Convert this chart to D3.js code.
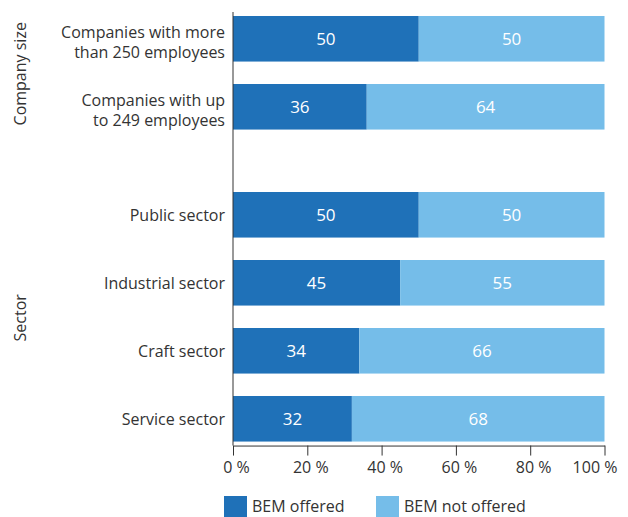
<!DOCTYPE html>
<html>
<head>
<meta charset="utf-8">
<script src="https://cdn.jsdelivr.net/npm/d3@7"></script>
<style>
	body { margin: 0; background: #fff; }
	#vizHolder { width: 628px; height: 517px; }
	text { font-family: "Open Sans", sans-serif; fill: #333; }
</style>
</head>
<body>
<div id="vizHolder"></div>
<script>
var categories = [
	['Companies with more', 'than 250 employees'],
	['Companies with up', 'to 249 employees'],
	['Public sector'],
	['Industrial sector'],
	['Craft sector'],
	['Service sector']
];
var groups = ['Company size', 'Company size', 'Sector', 'Sector', 'Sector', 'Sector'];
var offered = [50, 36, 50, 45, 34, 32];
var notOffered = [50, 64, 50, 55, 66, 68];
var seriesNames = ['BEM offered', 'BEM not offered'];
var tickValues = [0, 20, 40, 60, 80, 100];

var colors = ['#1f71b8', '#75bde9'];
var width = 628, height = 517;
var left = 233, right = 604.5, topY = 16, rowStep = 68, groupGap = 40, pad = 0.33;

var svg = d3.select('#vizHolder').append('svg')
	.attr('width', width)
	.attr('height', height);

var xScale = d3.scaleLinear().domain([0, 100]).range([left, right]);

//band scale for rows, first band starts at topY, step = rowStep
var yScale = d3.scaleBand()
	.domain(d3.range(categories.length))
	.range([topY, topY + rowStep * (categories.length - pad)])
	.paddingInner(pad)
	.paddingOuter(0);

function rowY(i) {
	return yScale(i) + (groups[i] === 'Sector' ? groupGap : 0);
}

var rows = categories.map(function(c, i) {
	return { i: i, values: [offered[i], notOffered[i]] };
});

// bars
var rowG = svg.selectAll('.row')
	.data(rows)
	.enter()
	.append('g')
	.attr('class', 'row')
	.attr('transform', function(d) { return 'translate(0,' + rowY(d.i) + ')'; });

rowG.each(function(d) {
	var g = d3.select(this);
	var mid = yScale.bandwidth() / 2;
	var start = 0;
	d.values.forEach(function(v, k) {
		g.append('rect')
			.attr('x', xScale(start))
			.attr('y', 0)
			.attr('width', xScale(start + v) - xScale(start))
			.attr('height', yScale.bandwidth())
			.attr('fill', colors[k]);
		g.append('text')
			.attr('x', (xScale(start) + xScale(start + v)) / 2)
			.attr('y', mid + 6)
			.attr('text-anchor', 'middle')
			.style('fill', '#fff')
			.style('font-size', '17px')
			.text(v);
		start += v;
	});

	var lines = categories[d.i];
	lines.forEach(function(line, j) {
		g.append('text')
			.attr('x', left - 8)
			.attr('y', lines.length > 1 ? mid - 1 + j * 20 : mid + 6)
			.attr('text-anchor', 'end')
			.style('font-size', '16px')
			.text(line);
	});
});

// x axis
var axisY = rowY(categories.length - 1) + yScale.bandwidth() + 4;
var xAxis = svg.append('g')
	.attr('transform', 'translate(0,' + axisY + ')')
	.call(d3.axisBottom(xScale)
		.tickValues(tickValues)
		.tickSize(10)
		.tickSizeOuter(0)
		.tickFormat(function(d) { return d + ' %'; }));
xAxis.select('.domain').attr('stroke', '#333');
xAxis.selectAll('.tick line').attr('stroke', '#333');
xAxis.selectAll('.tick text')
	.attr('y', 16)
	.attr('x', function(d) { return d === 100 ? -10 : 3; })
	.style('font-size', '16px')
	.style('font-family', '"Open Sans", sans-serif')
	.attr('fill', '#333');

// y axis line
svg.append('line')
	.attr('x1', left).attr('x2', left)
	.attr('y1', 12).attr('y2', axisY)
	.attr('stroke', '#333');

// group labels
var groupNames = ['Company size', 'Sector'];
groupNames.forEach(function(name) {
	var idx = d3.range(groups.length).filter(function(i) { return groups[i] === name; });
	var y0 = rowY(idx[0]), y1 = rowY(idx[idx.length - 1]) + yScale.bandwidth();
	var cy = (y0 + y1) / 2 + 1;
	svg.append('text')
		.attr('transform', 'translate(26,' + cy + ') rotate(-90)')
		.attr('text-anchor', 'middle')
		.style('font-size', '16px')
		.text(name);
});

// legend
var legend = svg.selectAll('.legend')
	.data(seriesNames)
	.enter()
	.append('g')
	.attr('class', 'legend')
	.attr('transform', function(d, i) { return 'translate(' + (224 + i * 152) + ',496)'; });
legend.append('rect')
	.attr('width', 23)
	.attr('height', 21)
	.attr('fill', function(d, i) { return colors[i]; });
legend.append('text')
	.attr('x', 28)
	.attr('y', 16)
	.style('font-size', '16px')
	.text(function(d) { return d; });
</script>
</body>
</html>
